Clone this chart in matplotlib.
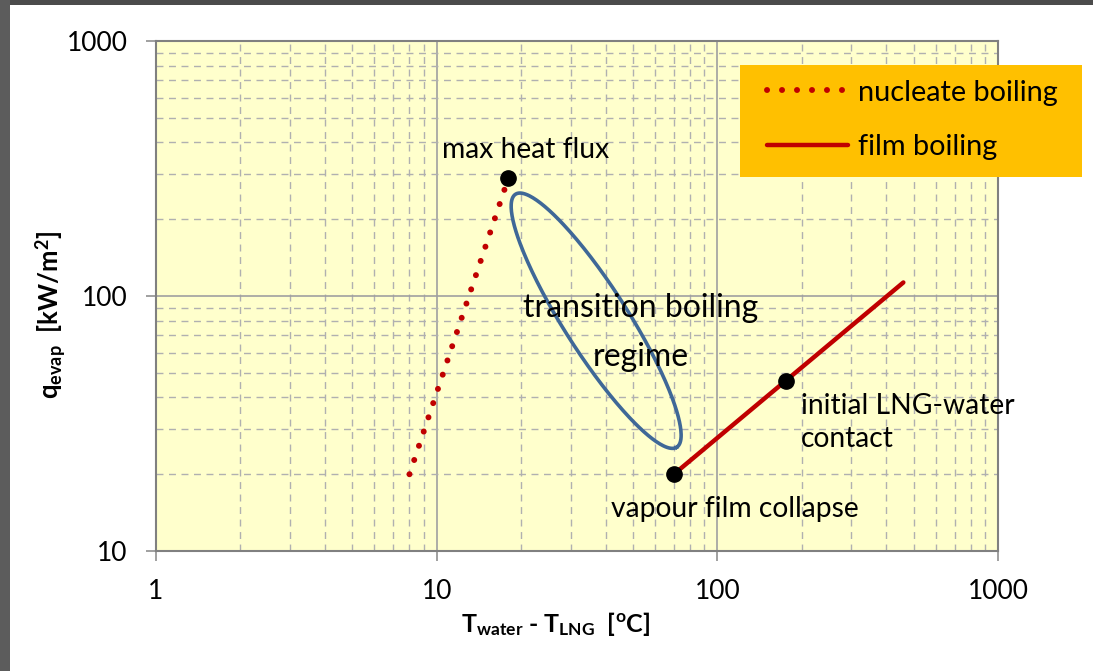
import numpy as np
import matplotlib
matplotlib.use("Agg")
import matplotlib.pyplot as plt
from matplotlib.lines import Line2D
from matplotlib.patches import Rectangle
from matplotlib.ticker import FuncFormatter, LogLocator

plt.rcParams['font.family'] = ['Lato', 'DejaVu Sans']
plt.rcParams['mathtext.fontset'] = 'custom'
plt.rcParams['mathtext.rm'] = 'Lato'
plt.rcParams['mathtext.it'] = 'Lato:italic'
plt.rcParams['mathtext.bf'] = 'Lato:bold'

# regime curves (delta T in degC, heat flux in kW/m2)
nucleate_dT = [8, 18]
nucleate_q = [20, 290]
film_dT = [70, 460]
film_q = [20, 113]

# marked points
point_names = ["max heat flux", "vapour film collapse", "initial LNG-water\ncontact"]
point_dT = [18, 70, 175]
point_q = [290, 20, 46.5]

# transition boiling region, ellipse drawn in log space
trans_center = (37, 80)
trans_semi = (150, 32)      # pixels along major / minor axis
trans_angle = 57.5          # degrees, tilted down to the right

RED = '#C00000'
BLUE = '#3F6897'

fig = plt.figure(figsize=(10.93, 6.71), dpi=100)
ax = fig.add_axes([156 / 1093, 1 - 551 / 671, 842 / 1093, 510 / 671])
ax.set_facecolor('#FFFFCC')
ax.set_xscale('log')
ax.set_yscale('log')
ax.set_xlim(1, 1000)
ax.set_ylim(10, 1000)

ax.xaxis.set_minor_locator(LogLocator(base=10, subs=np.arange(2, 10)))
ax.yaxis.set_minor_locator(LogLocator(base=10, subs=np.arange(2, 10)))
fmt = FuncFormatter(lambda v, _: f'{v:g}')
ax.xaxis.set_major_formatter(fmt)
ax.yaxis.set_major_formatter(fmt)
ax.xaxis.set_minor_formatter(FuncFormatter(lambda v, _: ''))
ax.yaxis.set_minor_formatter(FuncFormatter(lambda v, _: ''))

ax.grid(which='major', color='#A0A0A0', lw=1.2, ls='-')
ax.grid(which='minor', color='#B0B0B0', lw=1.0, ls=(0, (5, 4)))
ax.set_axisbelow(True)
ax.tick_params(which='major', direction='out', length=7.5, width=1.2, color='#909090',
               labelsize=19, pad=13)
ax.tick_params(which='minor', length=0)
for s in ax.spines.values():
    s.set_color('#808080')
    s.set_linewidth(1.5)

# curves
ax.plot(nucleate_dT, nucleate_q, color=RED, lw=4.3, ls=(0, (0.01, 2.5)),
        dash_capstyle='round', zorder=3)
ax.plot(film_dT, film_q, color=RED, lw=3.2, solid_capstyle='round', zorder=3)

# ellipse around the transition regime
t = np.linspace(0, 2 * np.pi, 300)
th = np.radians(trans_angle)
a, b = trans_semi
dx = a * np.cos(t) * np.cos(th) - b * np.sin(t) * np.sin(th)
dy = a * np.cos(t) * np.sin(th) + b * np.sin(t) * np.cos(th)
px_dec_x = 842 / 3
px_dec_y = 510 / 2
ex = 10 ** (np.log10(trans_center[0]) + dx / px_dec_x)
ey = 10 ** (np.log10(trans_center[1]) - dy / px_dec_y)
ax.plot(ex, ey, color=BLUE, lw=2.6, zorder=3)

ax.plot(point_dT, point_q, 'o', color='black', ms=11, zorder=4)

offsets = [(-48, 20), (-45, -25), (11, -30)]
for name, xv, yv, off in zip(point_names, point_dT, point_q, offsets):
    ax.annotate(name, (xv, yv), xytext=off, textcoords='offset points',
                ha='left', va='center', fontsize=20.3, linespacing=1.35, zorder=5)

ax.text(53.4, 89.8, 'transition boiling', ha='center', va='center', fontsize=23, zorder=5)
ax.text(53.4, 57.7, 'regime', ha='center', va='center', fontsize=23, zorder=5)

ax.set_xlabel(r'T$_{\mathbf{water}}$ - T$_{\mathbf{LNG}}$  [$^{\mathbf{o}}$C]',
              fontsize=18, fontweight='bold')
ax.xaxis.set_label_coords(0.475, -0.115)
ax.set_ylabel(r'q$_{\mathbf{evap}}$  [kW/m$^{\mathbf{2}}$]',
              fontsize=18.5, fontweight='bold')
ax.yaxis.set_label_coords(-0.105, 0.463)

# legend box
fig.patches.append(Rectangle((740 / 1093, 1 - 177 / 671), 342 / 1093, 112 / 671,
                             transform=fig.transFigure, facecolor='#FFC000',
                             edgecolor='none', zorder=5))
handles = [
    Line2D([], [], color=RED, lw=4.3, ls=(0, (0.01, 2.5)), dash_capstyle='round'),
    Line2D([], [], color=RED, lw=3.2, solid_capstyle='round'),
]
leg = fig.legend(handles, ['nucleate boiling', 'film boiling'], loc='center left',
                 bbox_to_anchor=(767 / 1093, 1 - 120 / 671), frameon=False,
                 fontsize=20.8, handlelength=2.8, handletextpad=0.35,
                 labelspacing=1.0, borderpad=0, borderaxespad=0)
leg.set_zorder(6)

# slide frame
fig.patches.append(Rectangle((0, 1 - 5 / 671), 1, 5 / 671, transform=fig.transFigure,
                             facecolor='#4B4B4B', edgecolor='none', zorder=7))
fig.patches.append(Rectangle((0, 0), 10 / 1093, 1, transform=fig.transFigure,
                             facecolor='#5C5C5C', edgecolor='none', zorder=7))

fig.savefig('out.png', dpi=100)
